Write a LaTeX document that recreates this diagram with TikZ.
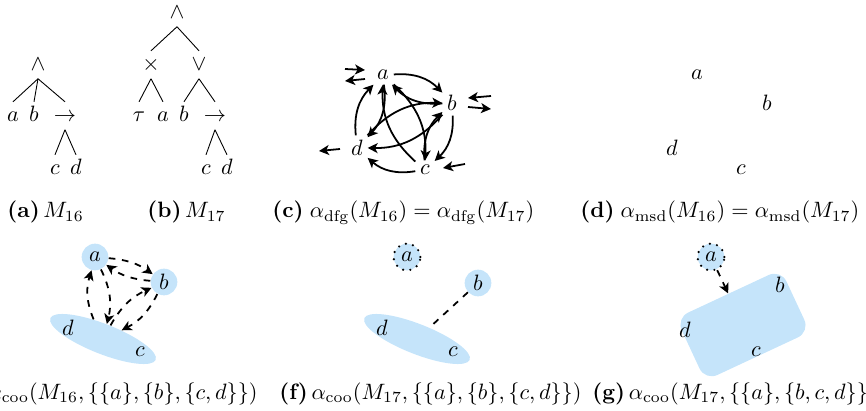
\documentclass[tikz,border=0pt]{standalone}
\usepackage{amsmath,amssymb}
\usepackage{xcolor}
\usepackage{tikz}
\usetikzlibrary{arrows.meta, positioning, shapes.geometric}
\definecolor{coo-blue}{RGB}{197, 228, 250}

\begin{document}
\begin{tikzpicture}[
  x=0.45pt, y=0.45pt,
  tn/.style={anchor=base, text height=1.6ex, text depth=0.3ex, inner sep=2pt},
  subcap/.style={anchor=base west, inner sep=0pt},
  act/.style={inner sep=2pt},
  dfg/.style={-{Stealth[length=4.5pt, width=4.5pt, inset=1.2pt]}, thick, bend left=25},
  grp/.style={circle, fill=coo-blue, minimum size=12pt, inner sep=0pt},
  solo/.style={grp, draw, line width=1.1pt, dash pattern=on 0pt off 3.3pt, line cap=round},
  pairgrp/.style={ellipse, fill=coo-blue, minimum width=51pt, minimum height=13.5pt, rotate=-21.5},
  coo/.style={-{Stealth[length=4.5pt, width=4.5pt, inset=1.2pt]}, thick, dashed}
]
\useasboundingbox (0,0) rectangle (866,410);

% (a) M16
\node[tn] (a-and) at (38,339) {$\wedge$};
\node[tn] (a-a) at (13,288) {$a$};
\node[tn] (a-b) at (34,288) {$b$};
\node[tn] (a-seq) at (65,288) {$\rightarrow$};
\node[tn] (a-c) at (55,235) {$c$};
\node[tn] (a-d) at (76,235) {$d$};
\foreach \p/\c in {a-and/a-a, a-and/a-b, a-and/a-seq, a-seq/a-c, a-seq/a-d}
  \draw (\p.south) -- (\c.north);

% (b) M17
\node[tn] (b-and) at (177,391) {$\wedge$};
\node[tn] (b-xor) at (151,339) {$\times$};
\node[tn] (b-or) at (199,339) {$\vee$};
\node[tn] (b-tau) at (139,288) {$\tau$};
\node[tn] (b-a) at (163,288) {$a$};
\node[tn] (b-b) at (184,288) {$b$};
\node[tn] (b-seq) at (215,288) {$\rightarrow$};
\node[tn] (b-c) at (206,235) {$c$};
\node[tn] (b-d) at (227,235) {$d$};
\foreach \p/\c in {b-and/b-xor, b-and/b-or, b-xor/b-tau, b-xor/b-a, b-or/b-b, b-or/b-seq, b-seq/b-c, b-seq/b-d}
  \draw (\p.south) -- (\c.north);

% (c) dfg
\node[act] (c-a) at (383,335) {$a$};
\node[act] (c-b) at (452,307) {$b$};
\node[act] (c-d) at (357,262) {$d$};
\node[act] (c-c) at (425,240) {$c$};
\foreach \s/\t in {a/b, b/a, a/d, d/a, a/c, c/a, b/d, d/b, b/c, c/b, c/d}
  \draw[dfg] (c-\s) to (c-\t);
\coordinate (in-a1) at (345,341); \coordinate (in-a2) at (365,340);
\coordinate (out-a1) at (365,331); \coordinate (out-a2) at (345,329);
\coordinate (in-b1) at (491,314); \coordinate (in-b2) at (468,312);
\coordinate (out-b1) at (468,303); \coordinate (out-b2) at (491,301);
\coordinate (out-d1) at (340,261); \coordinate (out-d2) at (319,259);
\coordinate (in-c1) at (465,246); \coordinate (in-c2) at (443,242);
\foreach \s/\t in {in-a1/in-a2, out-a1/out-a2, in-b1/in-b2, out-b1/out-b2, out-d1/out-d2, in-c1/in-c2}
  \draw[dfg, bend left=0] (\s) -- (\t);

% (d) msd
\node[act] (d-a) at (697,335) {$a$};
\node[act] (d-b) at (767,307) {$b$};
\node[act] (d-d) at (672,262) {$d$};
\node[act] (d-c) at (741,240) {$c$};

% (e) coo M16
\node[pairgrp] (e-cd) at (103,71) {};
\node[grp] (e-a) at (95,153) {$a$};
\node[grp] (e-b) at (164,128) {$b$};
\node[act] (e-d) at (68,82) {$d$};
\node[act] (e-c) at (140,58) {$c$};
\draw[coo] (e-a) to[bend left=15] (e-b);
\draw[coo] (e-b) to[bend left=15] (e-a);
\draw[coo] (e-a) to[bend left=20] (e-cd);
\draw[coo] (e-cd) to[bend left=20] (e-a);
\draw[coo] (e-cd) to[bend left=18] (e-b);
\draw[coo] (e-b) to[bend left=18] (e-cd);

% (f) coo M17
\node[pairgrp] (f-cd) at (417,71) {};
\node[solo] (f-a) at (407,153) {$a$};
\node[grp] (f-b) at (478,127) {$b$};
\node[act] (f-d) at (382,82) {$d$};
\node[act] (f-c) at (453,58) {$c$};
\draw[thick, dashed] (f-b) -- (f-cd);

% (g) coo M17
\node[rectangle, rounded corners=6pt, fill=coo-blue, minimum width=52pt, minimum height=31pt, rotate=25] (g-bcd) at (743,85) {};
\node[solo] (g-a) at (711,153) {$a$};
\node[act] (g-b) at (780,125) {$b$};
\node[act] (g-d) at (685,80) {$d$};
\node[act] (g-c) at (756,58) {$c$};
\draw[coo] (g-a) -- (g-bcd);

% captions
\node[subcap] (cap-a) at (7,192) {\textbf{(a)}\,$M_{16}$};
\node[subcap] (cap-b) at (147,192) {\textbf{(b)}\,$M_{17}$};
\node[subcap] (cap-c) at (272,192) {\textbf{(c)}\;$\alpha_{\mathrm{dfg}}(M_{16}) = \alpha_{\mathrm{dfg}}(M_{17})$};
\node[subcap] (cap-d) at (580,192) {\textbf{(d)}\;$\alpha_{\mathrm{msd}}(M_{16}) = \alpha_{\mathrm{msd}}(M_{17})$};
\node[subcap, anchor=base east] (cap-e) at (258,11) {$\alpha_{\mathrm{coo}}(M_{16}, \{\{a\}, \{b\}, \{c, d\}\})$};
\node[subcap] (cap-f) at (279,11) {\textbf{(f)}\,$\alpha_{\mathrm{coo}}(M_{17}, \{\{a\}, \{b\}, \{c, d\}\})$};
\node[subcap] (cap-g) at (592,11) {\textbf{(g)}\,$\alpha_{\mathrm{coo}}(M_{17}, \{\{a\}, \{b, c, d\}\}$};
\end{tikzpicture}
\end{document}
